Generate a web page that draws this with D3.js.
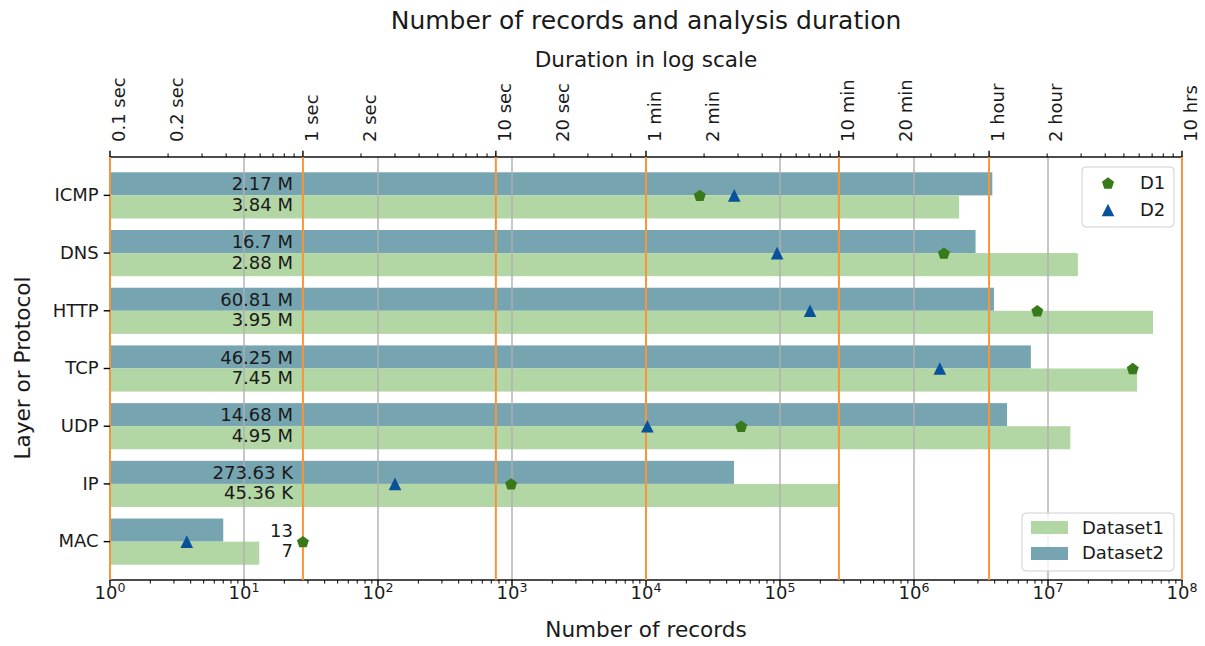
<!DOCTYPE html>
<html>
<head>
<meta charset="utf-8">
<script src="https://cdn.jsdelivr.net/npm/d3@7"></script>
<style>
  body { margin: 0; background: #fff; }
  text { font-family: "DejaVu Sans", sans-serif; fill: #1a1a1a; }
</style>
</head>
<body>
<svg id="chart" width="1205" height="646"></svg>
<script>
// data
const categories = ["ICMP", "DNS", "HTTP", "TCP", "UDP", "IP", "MAC"];
const dataset1 = [2.17e6, 16.7e6, 60.81e6, 46.25e6, 14.68e6, 273630, 13];
const dataset2 = [3.84e6, 2.88e6, 3.95e6, 7.45e6, 4.95e6, 45360, 7];
// analysis durations in seconds
const durD1 = [114, 2100, 6400, 20000, 187, 12, 1.0];
const durD2 = [172, 287, 425, 2000, 61, 3.0, 0.25];

const durTicks = [0.1, 0.2, 1, 2, 10, 20, 60, 120, 600, 1200, 3600, 7200, 36000];
const durLabels = ["0.1 sec", "0.2 sec", "1 sec", "2 sec", "10 sec", "20 sec", "1 min", "2 min",
  "10 min", "20 min", "1 hour", "2 hour", "10 hrs"];
const durMajor = [0.1, 1, 10, 60, 600, 3600, 36000];

const svg = d3.select("#chart");
const mLeft = 110, mRight = 1182, mTop = 157, mBottom = 580;

const x = d3.scaleLog().domain([1, 1e8]).range([mLeft, mRight]);
const xd = d3.scaleLog().domain([0.1, 36000]).range([mLeft, mRight]);
const y = d3.scaleBand().domain(categories).range([mTop, mBottom]).paddingInner(0).paddingOuter(0.165);
const bh = y.step() * 0.4;
const cy = c => y(c) + y.bandwidth() / 2;

const teal = "#76a5b1", green = "#b2d6a4", orange = "#f8953a";

// bars
svg.append("g").selectAll("rect")
  .data(categories)
  .enter().append("rect")
  .attr("x", mLeft)
  .attr("y", d => cy(d) - bh)
  .attr("width", (d, i) => x(dataset2[i]) - mLeft)
  .attr("height", bh)
  .attr("fill", teal);

svg.append("g").selectAll("rect")
  .data(categories)
  .enter().append("rect")
  .attr("x", mLeft)
  .attr("y", d => cy(d))
  .attr("width", (d, i) => x(dataset1[i]) - mLeft)
  .attr("height", bh)
  .attr("fill", green);

// grid on records axis
const decades = d3.range(0, 9).map(k => Math.pow(10, k));
svg.append("g").selectAll("line")
  .data(decades.slice(1, 8))
  .enter().append("line")
  .attr("x1", d => x(d)).attr("x2", d => x(d))
  .attr("y1", mTop).attr("y2", mBottom)
  .attr("stroke", "#b0b0b0")
  .attr("stroke-width", 1.4);

// spines
svg.append("rect")
  .attr("x", mLeft).attr("y", mTop)
  .attr("width", mRight - mLeft).attr("height", mBottom - mTop)
  .attr("fill", "none").attr("stroke", "#000").attr("stroke-width", 1.4);

// orange duration lines
svg.append("g").selectAll("line")
  .data(durMajor)
  .enter().append("line")
  .attr("x1", d => xd(d)).attr("x2", d => xd(d))
  .attr("y1", mTop).attr("y2", mBottom)
  .attr("stroke", orange)
  .attr("stroke-width", 2);

// bar labels
function fmt(v) {
  if (v >= 1e6) return +(v / 1e6).toFixed(2) + " M";
  if (v >= 1e3) return +(v / 1e3).toFixed(2) + " K";
  return String(v);
}
svg.append("g").selectAll("text")
  .data(categories)
  .enter().append("text")
  .attr("x", 293)
  .attr("y", d => cy(d) - 5)
  .attr("text-anchor", "end")
  .style("font-size", "18px")
  .text((d, i) => fmt(dataset1[i]));
svg.append("g").selectAll("text")
  .data(categories)
  .enter().append("text")
  .attr("x", 293)
  .attr("y", d => cy(d) + 15.5)
  .attr("text-anchor", "end")
  .style("font-size", "18px")
  .text((d, i) => fmt(dataset2[i]));

// markers
const r = 6.3;
const pentagon = {
  draw(ctx, s) {
    for (let k = 0; k < 5; k++) {
      const a = -Math.PI / 2 + k * 2 * Math.PI / 5;
      const px = r * Math.cos(a), py = r * Math.sin(a) + 0.6;
      k === 0 ? ctx.moveTo(px, py) : ctx.lineTo(px, py);
    }
    ctx.closePath();
  }
};
const triangle = {
  draw(ctx, s) {
    ctx.moveTo(0, -r);
    ctx.lineTo(r, r);
    ctx.lineTo(-r, r);
    ctx.closePath();
  }
};
const d1Color = "#387a1a", d2Color = "#0a519c";

svg.append("g").selectAll("path")
  .data(categories)
  .enter().append("path")
  .attr("d", d3.symbol(triangle))
  .attr("transform", (d, i) => "translate(" + xd(durD2[i]) + "," + cy(d) + ")")
  .attr("fill", d2Color);
svg.append("g").selectAll("path")
  .data(categories)
  .enter().append("path")
  .attr("d", d3.symbol(pentagon))
  .attr("transform", (d, i) => "translate(" + xd(durD1[i]) + "," + cy(d) + ")")
  .attr("fill", d1Color);

// bottom axis
const minorRec = [];
decades.slice(0, 8).forEach(p => { for (let k = 2; k < 10; k++) minorRec.push(p * k); });
svg.append("g").selectAll("line")
  .data(minorRec)
  .enter().append("line")
  .attr("x1", d => x(d)).attr("x2", d => x(d))
  .attr("y1", mBottom).attr("y2", mBottom + 3.6)
  .attr("stroke", "#000").attr("stroke-width", 1);
const bt = svg.append("g").selectAll("g")
  .data(decades)
  .enter().append("g")
  .attr("transform", d => "translate(" + x(d) + "," + mBottom + ")");
bt.append("line").attr("y2", 6.3).attr("stroke", "#000").attr("stroke-width", 1.4);
const btText = bt.append("text")
  .attr("y", 18.5)
  .attr("text-anchor", "middle")
  .style("font-size", "18px");
btText.append("tspan").text("10");
btText.append("tspan")
  .attr("dy", -7)
  .style("font-size", "12.6px")
  .text(d => Math.round(Math.log10(d)));

// top axis (durations)
const durMinor = [];
[[0.1, 9], [1, 9], [10, 5], [60, 9], [600, 5], [3600, 9]].forEach(([b, n]) => {
  for (let k = 2; k <= n; k++) durMinor.push(b * k);
});
svg.append("g").selectAll("line")
  .data(durMinor)
  .enter().append("line")
  .attr("x1", d => xd(d)).attr("x2", d => xd(d))
  .attr("y1", mTop).attr("y2", mTop - 3.6)
  .attr("stroke", "#000").attr("stroke-width", 1);
svg.append("g").selectAll("line")
  .data(durMajor)
  .enter().append("line")
  .attr("x1", d => xd(d)).attr("x2", d => xd(d))
  .attr("y1", mTop).attr("y2", mTop - 6.3)
  .attr("stroke", "#000").attr("stroke-width", 1.4);
svg.append("g").selectAll("text")
  .data(durTicks)
  .enter().append("text")
  .attr("transform", d => "translate(" + (xd(d) + 15) + "," + 142 + ") rotate(-90)")
  .attr("text-anchor", "start")
  .style("font-size", "18px")
  .text((d, i) => durLabels[i]);

// left axis
const yAxis = svg.append("g")
  .attr("transform", "translate(" + mLeft + ",0)")
  .call(d3.axisLeft(y).tickSize(6.3).tickPadding(5));
yAxis.select(".domain").remove();
yAxis.selectAll("line").attr("stroke-width", 1.4);
yAxis.selectAll("text").style("font-size", "18px").attr("fill", "#1a1a1a")
  .style("font-family", "DejaVu Sans");

// titles
svg.append("text").attr("x", 646).attr("y", 29).attr("text-anchor", "middle")
  .style("font-size", "25px").text("Number of records and analysis duration");
svg.append("text").attr("x", 646).attr("y", 67).attr("text-anchor", "middle")
  .style("font-size", "21.6px").text("Duration in log scale");
svg.append("text").attr("x", 646).attr("y", 637).attr("text-anchor", "middle")
  .style("font-size", "21.6px").text("Number of records");
svg.append("text").attr("transform", "translate(30,368) rotate(-90)").attr("text-anchor", "middle")
  .style("font-size", "21.6px").text("Layer or Protocol");

// legend: markers
const lg1 = svg.append("g");
lg1.append("rect").attr("x", 1082).attr("y", 167).attr("width", 92).attr("height", 60).attr("rx", 4)
  .attr("fill", "#fff").attr("fill-opacity", 0.8).attr("stroke", "#d0d0d0");
lg1.append("path").attr("d", d3.symbol(pentagon)).attr("transform", "translate(1108,183)").attr("fill", d1Color);
lg1.append("path").attr("d", d3.symbol(triangle)).attr("transform", "translate(1108,210)").attr("fill", d2Color);
lg1.append("text").attr("x", 1140).attr("y", 189).style("font-size", "18px").text("D1");
lg1.append("text").attr("x", 1140).attr("y", 216).style("font-size", "18px").text("D2");

// legend: bars
const lg2 = svg.append("g");
lg2.append("rect").attr("x", 1022).attr("y", 513).attr("width", 152).attr("height", 58).attr("rx", 4)
  .attr("fill", "#fff").attr("fill-opacity", 0.8).attr("stroke", "#d0d0d0");
lg2.append("rect").attr("x", 1031).attr("y", 521).attr("width", 37).attr("height", 13).attr("fill", green);
lg2.append("rect").attr("x", 1031).attr("y", 547).attr("width", 37).attr("height", 13).attr("fill", teal);
lg2.append("text").attr("x", 1082).attr("y", 534).style("font-size", "18px").text("Dataset1");
lg2.append("text").attr("x", 1082).attr("y", 559).style("font-size", "18px").text("Dataset2");
</script>
</body>
</html>
